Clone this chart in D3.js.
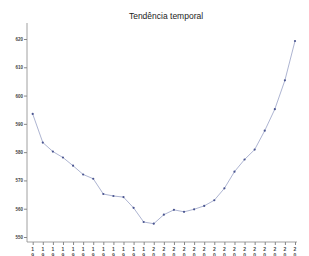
<!DOCTYPE html>
<html>
<head>
<meta charset="utf-8">
<script src="https://cdn.jsdelivr.net/npm/d3@7"></script>
<style>
  body { margin: 0; background: #fff; }
  text { font-family: "Liberation Sans", Arial, sans-serif; }
</style>
</head>
<body>
<div id="chart"></div>
<script>
var WIDTH = 309, HEIGHT = 256;

var years = [1988, 1989, 1990, 1991, 1992, 1993, 1994, 1995, 1996, 1997, 1998, 1999, 2000,
  2001, 2002, 2003, 2004, 2005, 2006, 2007, 2008, 2009, 2010, 2011, 2012, 2013, 2014];
var values = [593.5, 583.4, 580.2, 578.1, 575.2, 572.1, 570.6, 565.2, 564.5, 564.1, 560.3, 555.3, 554.7,
  557.9, 559.6, 558.9, 559.8, 561.0, 563.0, 567.2, 573.1, 577.4, 580.9, 587.6, 595.2, 605.4, 619.3];
var yTicks = [550, 560, 570, 580, 590, 600, 610, 620];

var data = years.map(function(y, i) { return {year: y, value: values[i]}; });

var svg = d3.select("#chart").append("svg")
  .attr("width", WIDTH)
  .attr("height", HEIGHT);

var xScale = d3.scalePoint().domain(years).range([32.7, 295]);
var yScale = d3.scaleLinear().domain([550, 620]).range([237, 39]);

svg.append("text")
  .attr("x", 166)
  .attr("y", 19)
  .attr("text-anchor", "middle")
  .style("font-size", "8.5px")
  .style("fill", "#222")
  .text("Tendência temporal");

// y axis
var yAxis = svg.append("g")
  .attr("transform", "translate(27,0)")
  .call(d3.axisLeft(yScale).tickValues(yTicks).tickSize(3).tickPadding(1))
  .call(g => g.select(".domain").remove());
yAxis.selectAll("text").style("font-size", "4.5px").style("fill", "#444").style("font-weight", "bold");
yAxis.selectAll("line").attr("stroke", "#888");

svg.append("line")
  .attr("x1", 27).attr("x2", 27)
  .attr("y1", 23).attr("y2", 242)
  .attr("stroke", "#888").attr("stroke-width", 0.8);

// x axis
var xAxis = svg.append("g")
  .attr("transform", "translate(0,242)")
  .call(d3.axisBottom(xScale).tickSize(3).tickFormat(""))
  .call(g => g.select(".domain").remove());
xAxis.selectAll("line").attr("stroke", "#888");

svg.append("line")
  .attr("x1", 27).attr("x2", 297)
  .attr("y1", 242).attr("y2", 242)
  .attr("stroke", "#888").attr("stroke-width", 0.8);

// stacked vertical year labels
var labels = svg.append("g").selectAll("text")
  .data(years)
  .join("text")
  .attr("text-anchor", "middle")
  .style("font-size", "5px")
  .style("fill", "#444")
  .style("font-weight", "bold");
labels.each(function(d) {
  var t = d3.select(this);
  String(d).split("").forEach(function(ch, i) {
    t.append("tspan")
      .attr("x", xScale(d))
      .attr("y", 251 + i * 6)
      .text(ch);
  });
});

var line = d3.line()
  .x(function(d) { return xScale(d.year); })
  .y(function(d) { return yScale(d.value); });

svg.append("path")
  .datum(data)
  .attr("d", line)
  .style("fill", "none")
  .style("stroke", "#a4abcc")
  .style("stroke-width", 0.9);

svg.append("g").selectAll("circle")
  .data(data)
  .join("circle")
  .attr("cx", function(d) { return xScale(d.year); })
  .attr("cy", function(d) { return yScale(d.value); })
  .attr("r", 1.1)
  .style("fill", "#4a5590");
</script>
</body>
</html>
